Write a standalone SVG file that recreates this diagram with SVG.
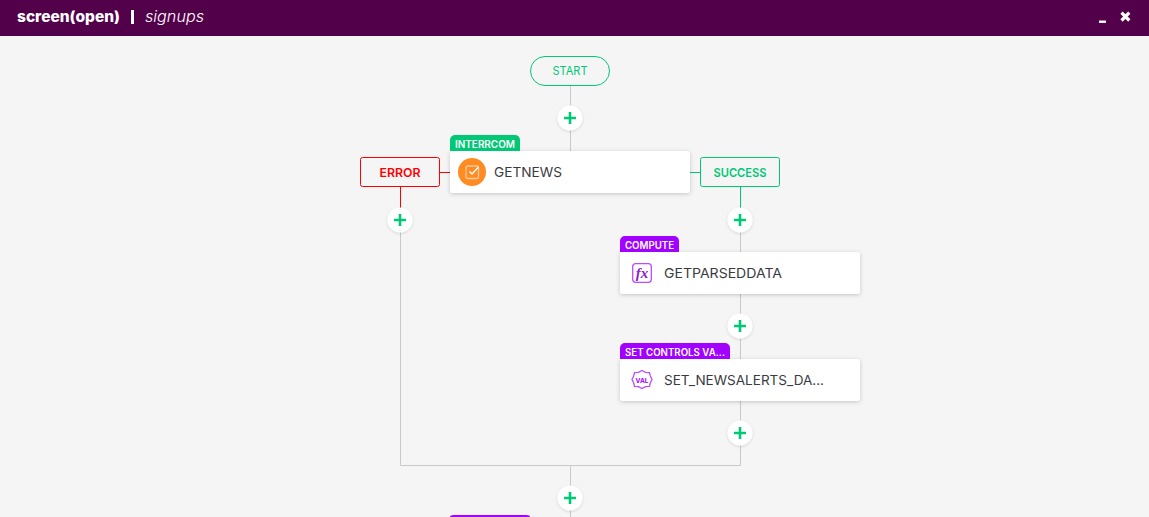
<svg xmlns="http://www.w3.org/2000/svg" width="1149" height="517" viewBox="0 0 1149 517">
<style>
text{font-family:Inter,"Liberation Sans",sans-serif}
.ln{fill:none;stroke:#c9c9c9;stroke-width:1}
.card{fill:#fff;filter:url(#sh)}
.pb{fill:#fff;filter:url(#sh2)}
.pl{stroke:#00c875;stroke-width:2.600;fill:none}
.tag{font-size:10px;font-weight:600;fill:#fff}
.nm{font-size:13.500px;font-weight:400;fill:#3a3a42}
.st{font-size:12px;font-weight:600}
.ic{fill:none;stroke:#b94dff;stroke-width:1.300}
</style>
<defs>
<filter id="sh" x="-10%" y="-30%" width="120%" height="170%"><feDropShadow dx="0" dy="1" stdDeviation="2.200" flood-color="#000" flood-opacity=".2"/></filter>
<filter id="sh2" x="-50%" y="-50%" width="200%" height="200%"><feDropShadow dx="0" dy="1" stdDeviation="1.500" flood-color="#000" flood-opacity=".14"/></filter>
<g id="plus"><circle class="pb" r="12.500"/><path class="pl" d="M-6 0H6M0-6V6"/></g>
</defs>
<rect width="1149" height="517" fill="#f5f5f5"/>
<g id="header">
<rect width="1149" height="36" fill="#53004b"/>
<text x="17" y="22" font-size="15" font-weight="800" fill="#fff" textLength="103" lengthAdjust="spacingAndGlyphs">screen(open)</text>
<rect x="131" y="10" width="3" height="14" fill="#fff"/>
<text x="145" y="22" font-size="15" font-style="italic" font-weight="300" fill="#fff" textLength="59" lengthAdjust="spacingAndGlyphs">signups</text>
<rect x="1099" y="20.500" width="7" height="2.400" fill="#fff"/>
<path d="M1121.500 12.700l7.800 7.800M1129.300 12.700l-7.800 7.800" stroke="#fff" stroke-width="3.200" fill="none"/>
</g>
<g id="connectors">
<path class="ln" d="M570.500 85V151M400.500 232V465.500H740.500V193M570.500 465V517M740.500 232V252M740.500 294V359M740.500 401V446"/>
<path fill="none" stroke="#f00" d="M440 172.500H450M400.500 187V208"/>
<path fill="none" stroke="#00c875" d="M690 172.500H700M740.500 187V208"/>
</g>
<g id="start">
<rect x="530.500" y="56.500" width="79" height="29" rx="14.500" fill="#f5f5f5" stroke="#00c875"/>
<text x="570" y="75" font-size="11.500" fill="#00c875" text-anchor="middle" textLength="35" lengthAdjust="spacingAndGlyphs">START</text>
</g>
<g id="add1"><use href="#plus" x="570" y="118"/></g>
<g id="error">
<rect x="360.500" y="157.500" width="79" height="29" rx="2" fill="#f5f5f5" stroke="#f00"/>
<text class="st" x="400" y="176.500" fill="#f00" text-anchor="middle" textLength="41" lengthAdjust="spacingAndGlyphs">ERROR</text>
</g>
<g id="getnews">
<rect class="card" x="450" y="151" width="240" height="42" rx="3"/>
<path d="M450 151V140a5 5 0 0 1 5-5H515a5 5 0 0 1 5 5V151Z" fill="#00c875"/>
<text class="tag" x="455" y="147.500" textLength="60" lengthAdjust="spacingAndGlyphs">INTERRCOM</text>
<circle cx="472" cy="172" r="14" fill="#ff8c23"/>
<rect x="466" y="166" width="12.500" height="12.500" rx="2" fill="none" stroke="#ffc898" stroke-width="1.300"/>
<path d="M469.500 171.500l2.500 2.500 6.500-7" fill="none" stroke="#fff" stroke-width="1.400"/>
<text class="nm" x="494" y="177" textLength="68" lengthAdjust="spacingAndGlyphs">GETNEWS</text>
</g>
<g id="success">
<rect x="700.500" y="157.500" width="79" height="29" rx="2" fill="#f5f5f5" stroke="#00c875"/>
<text class="st" x="740" y="176.500" fill="#00c875" text-anchor="middle" textLength="53" lengthAdjust="spacingAndGlyphs">SUCCESS</text>
</g>
<g id="add2"><use href="#plus" x="400" y="220"/></g>
<g id="add3"><use href="#plus" x="740" y="220"/></g>
<g id="getparseddata">
<rect class="card" x="620" y="252" width="240" height="42" rx="3"/>
<path d="M620 252V241a5 5 0 0 1 5-5H674a5 5 0 0 1 5 5V252Z" fill="#a200ff"/>
<text class="tag" x="625" y="248.500" textLength="49" lengthAdjust="spacingAndGlyphs">COMPUTE</text>
<rect class="ic" x="632.700" y="263.700" width="18.600" height="18.600" rx="3"/>
<text x="642" y="278" font-size="15" font-style="italic" font-weight="700" fill="#8a1fd0" text-anchor="middle" style="font-family:'Liberation Serif',serif">fx</text>
<text class="nm" x="664" y="278" textLength="118" lengthAdjust="spacingAndGlyphs">GETPARSEDDATA</text>
</g>
<g id="add4"><use href="#plus" x="740" y="326"/></g>
<g id="set_newsalerts">
<rect class="card" x="620" y="359" width="240" height="42" rx="3"/>
<path d="M620 359V348a5 5 0 0 1 5-5H725a5 5 0 0 1 5 5V359Z" fill="#a200ff"/>
<text class="tag" x="625" y="355.500" textLength="100" lengthAdjust="spacingAndGlyphs">SET CONTROLS VA...</text>
<path class="ic" d="M642 370.500l3.500 1.800 4 .2.800 3.500 1.700 3.500-1.700 3.500-.8 3.500-4 .2-3.500 1.800-3.500-1.800-4-.2-.8-3.500-1.700-3.500 1.700-3.500.8-3.500 4-.2Z"/>
<text x="642" y="382.500" font-size="6.500" font-weight="700" fill="#a200ff" text-anchor="middle">VAL</text>
<text class="nm" x="664" y="385" textLength="160" lengthAdjust="spacingAndGlyphs">SET_NEWSALERTS_DA...</text>
</g>
<g id="add5"><use href="#plus" x="740" y="433"/></g>
<g id="add6"><use href="#plus" x="570" y="498"/></g>
<g id="bottom-node">
<path d="M450 517a4 2 0 0 1 4-2H526a4 2 0 0 1 4 2Z" fill="#a200ff"/>
</g>
</svg>
